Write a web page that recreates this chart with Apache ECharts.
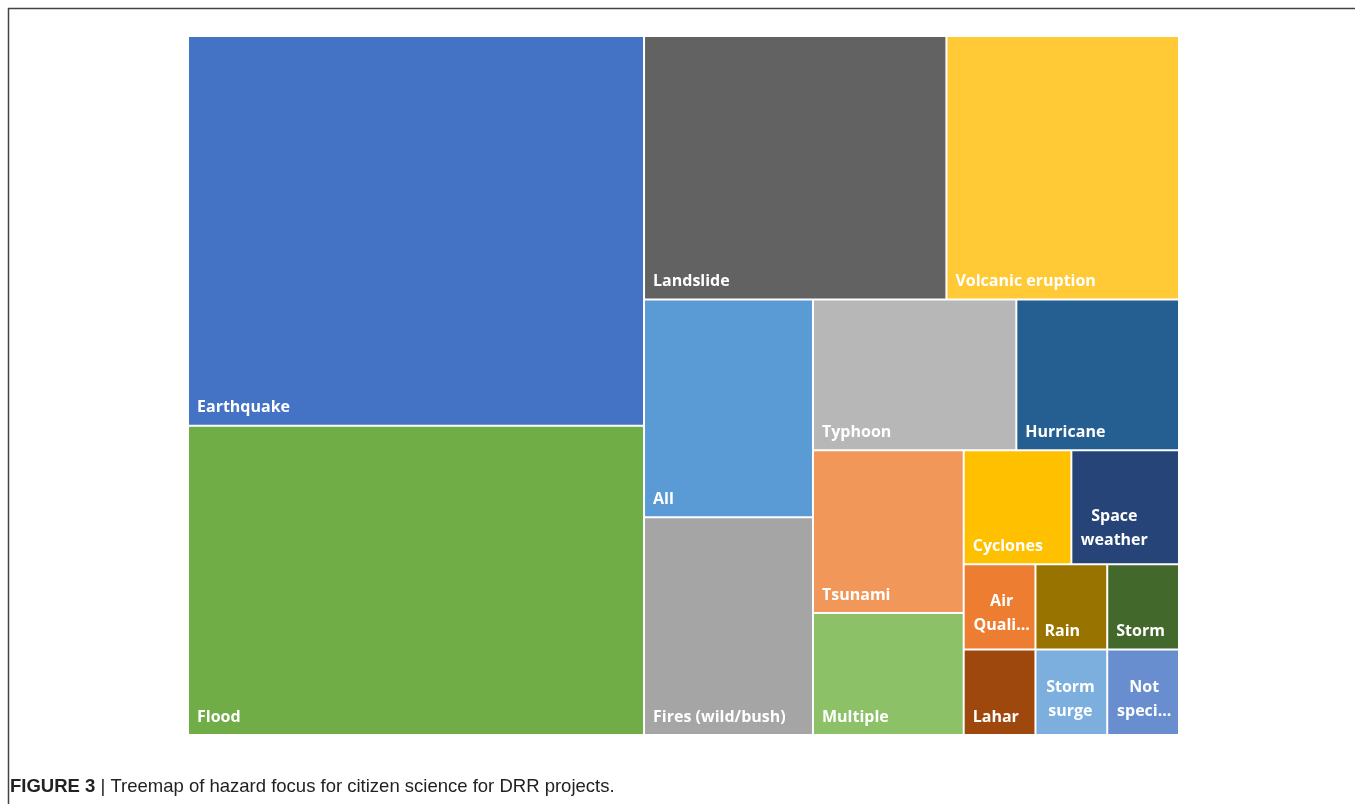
<!DOCTYPE html>
<html>
<head>
<meta charset="utf-8">
<title>Treemap of hazard focus</title>
<script src="https://cdn.jsdelivr.net/npm/echarts@6/dist/echarts.min.js"></script>
<style>
    html, body { margin: 0; padding: 0; background: #fff; }
    #chart-container { width: 1355px; height: 804px; }
</style>
</head>
<body>
<div id="chart-container"></div>
<script>
// hazard categories, in the order the tiles are laid out
var hazards = ['Earthquake', 'Flood', 'Landslide', 'Volcanic eruption', 'All', 'Fires (wild/bush)',
    'Typhoon', 'Hurricane', 'Tsunami', 'Multiple', 'Cyclones', 'Space weather',
    'Air Quality', 'Lahar', 'Rain', 'Storm', 'Storm surge', 'Not specified'];
var projects = [29, 23, 13, 10, 6, 6, 5, 4, 4, 3, 2, 2, 1, 1, 1, 1, 1, 1];
// text as it shows on each tile (long names are cut like in the original)
var tileLabels = ['Earthquake', 'Flood', 'Landslide', 'Volcanic eruption', 'All', 'Fires (wild/bush)',
    'Typhoon', 'Hurricane', 'Tsunami', 'Multiple', 'Cyclones', 'Space\nweather',
    'Air\nQuali...', 'Lahar', 'Rain', 'Storm', 'Storm\nsurge', 'Not\nspeci...'];
var tileColors = ['#4472C4', '#70AD47', '#626262', '#FFCA35', '#5B9BD5', '#A5A5A5',
    '#B7B7B7', '#255E91', '#F1975A', '#8CC168', '#FFC000', '#264478',
    '#ED7D31', '#9E480E', '#997300', '#43682B', '#7CAFDD', '#698ED0'];
// x of the centre of the two-line labels, from tile left
var centredAt = {'Space weather': 42, 'Air Quality': 37, 'Storm surge': 34, 'Not specified': 36};

var chart = echarts.init(document.getElementById('chart-container'));

var treeData = [];
for (var i = 0; i < hazards.length; i++) {
    var item = {
        name: hazards[i],
        value: projects[i],
        itemStyle: {color: tileColors[i]},
        label: {formatter: tileLabels[i]}
    };
    if (centredAt[hazards[i]] !== undefined) {
        item.label.position = [centredAt[hazards[i]], '100%'];
        item.label.align = 'center';
        item.label.verticalAlign = 'bottom';
        item.label.offset = [0, -6];
        item.label.lineHeight = 24;
    }
    treeData.push(item);
}

var options = {
    animation: false,
    graphic: [
        {
            type: 'polyline',
            shape: {points: [[8.5, 804], [8.5, 8.5], [1355, 8.5]]},
            style: {stroke: '#444', lineWidth: 1.5, fill: null},
            silent: true
        },
        {
            type: 'text',
            left: 10,
            top: 777,
            style: {
                text: '{b|FIGURE 3} | Treemap of hazard focus for citizen science for DRR projects.',
                font: '18.5px "Liberation Sans", Arial, sans-serif',
                fill: '#222',
                rich: {
                    b: {fontWeight: 'bold', fontSize: 18.5, fontFamily: '"Liberation Sans", Arial, sans-serif', fill: '#222'}
                }
            }
        }
    ],
    series: [{
        type: 'treemap',
        left: 189,
        top: 37,
        width: 989,
        height: 697,
        sort: false,
        squareRatio: 1,
        roam: false,
        nodeClick: false,
        breadcrumb: {show: false},
        itemStyle: {borderWidth: 0, gapWidth: 2, borderColor: '#fff'},
        label: {
            show: true,
            position: 'insideBottomLeft',
            distance: 3,
            color: '#fff',
            fontFamily: '"Open Sans", "Noto Sans", sans-serif',
            fontWeight: 'bold',
            fontSize: 16,
            lineHeight: 18
        },
        upperLabel: {show: false},
        emphasis: {disabled: true},
        data: treeData
    }]
};
chart.setOption(options);
</script>
</body>
</html>
